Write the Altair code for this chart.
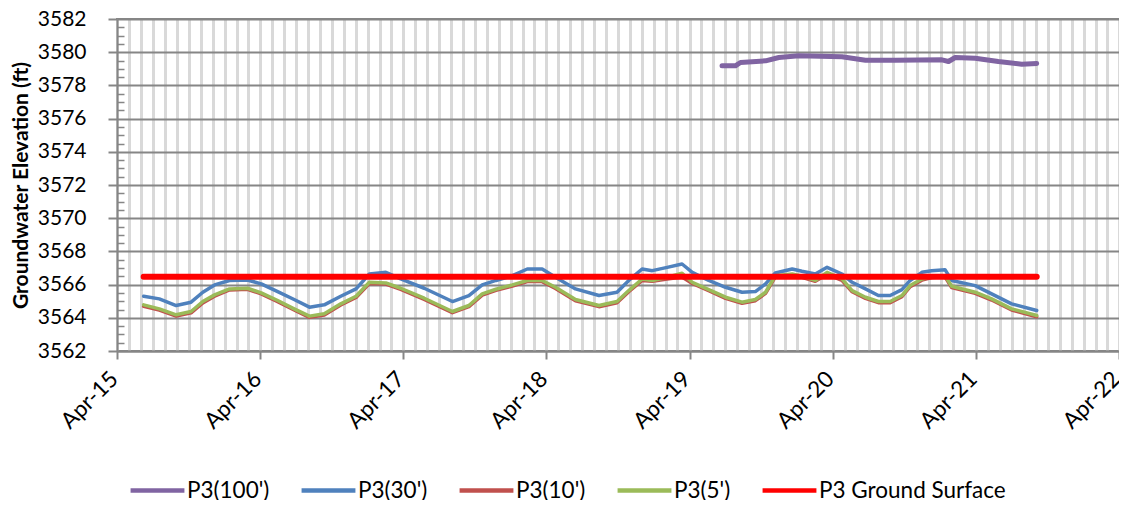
import altair as alt
import pandas as pd

# ---------------- data ----------------
dates = [
    "2015-06-08", "2015-07-18", "2015-08-30", "2015-10-07", "2015-11-06", "2015-12-06",
    "2016-01-13", "2016-02-28", "2016-04-03", "2016-05-15", "2016-06-26", "2016-08-04",
    "2016-09-11", "2016-10-23", "2016-12-01", "2017-01-04", "2017-02-15", "2017-03-25",
    "2017-05-24", "2017-08-04", "2017-09-15", "2017-10-19", "2017-11-23", "2018-01-04",
    "2018-02-11", "2018-03-21", "2018-04-24", "2018-06-14", "2018-08-13", "2018-09-28",
    "2018-10-28", "2018-12-01", "2018-12-27", "2019-02-03", "2019-03-13", "2019-04-08",
    "2019-05-20", "2019-07-02", "2019-08-13", "2019-09-16", "2019-10-12", "2019-11-06",
    "2019-12-19", "2020-01-13", "2020-02-16", "2020-03-17", "2020-04-24", "2020-05-20",
    "2020-06-23", "2020-07-26", "2020-08-25", "2020-09-24", "2020-10-15", "2020-11-14",
    "2020-12-09", "2021-01-12", "2021-01-29", "2021-03-30", "2021-05-11", "2021-07-01",
    "2021-09-03",
]
p30 = [
    3565.30, 3565.14, 3564.74, 3564.94, 3565.54, 3565.98,
    3566.25, 3566.28, 3566.04, 3565.58, 3565.10, 3564.64,
    3564.78, 3565.30, 3565.74, 3566.64, 3566.74, 3566.34,
    3565.78, 3564.98, 3565.34, 3565.98, 3566.25, 3566.54,
    3566.94, 3566.94, 3566.44, 3565.74, 3565.34, 3565.54,
    3566.25, 3566.94, 3566.84, 3567.04, 3567.24, 3566.74,
    3566.25, 3565.84, 3565.54, 3565.58, 3566.04, 3566.70,
    3566.94, 3566.80, 3566.64, 3567.04, 3566.64, 3566.14,
    3565.74, 3565.34, 3565.34, 3565.70, 3566.25, 3566.74,
    3566.84, 3566.90, 3566.25, 3565.94, 3565.44, 3564.84,
    3564.44,
]
p10 = [
    3564.70, 3564.46, 3564.10, 3564.30, 3564.90, 3565.30,
    3565.68, 3565.72, 3565.44, 3564.97, 3564.47, 3564.03,
    3564.17, 3564.77, 3565.22, 3566.06, 3566.03, 3565.71,
    3565.11, 3564.31, 3564.67, 3565.37, 3565.66, 3565.91,
    3566.18, 3566.18, 3565.77, 3565.03, 3564.67, 3564.91,
    3565.57, 3566.25, 3566.20, 3566.33, 3566.45, 3566.07,
    3565.63, 3565.17, 3564.87, 3565.03, 3565.47, 3566.46,
    3566.57, 3566.44, 3566.20, 3566.62, 3566.26, 3565.57,
    3565.17, 3564.91, 3564.91, 3565.27, 3565.87, 3566.27,
    3566.43, 3566.47, 3565.82, 3565.47, 3565.07, 3564.47,
    3564.06,
]
p5 = [
    3564.78, 3564.54, 3564.18, 3564.38, 3564.98, 3565.38,
    3565.74, 3565.78, 3565.50, 3565.04, 3564.54, 3564.10,
    3564.24, 3564.84, 3565.30, 3566.14, 3566.10, 3565.78,
    3565.18, 3564.38, 3564.74, 3565.44, 3565.72, 3565.98,
    3566.25, 3566.25, 3565.84, 3565.10, 3564.74, 3564.98,
    3565.64, 3566.34, 3566.25, 3566.44, 3566.68, 3566.14,
    3565.70, 3565.24, 3564.94, 3565.10, 3565.54, 3566.54,
    3566.64, 3566.50, 3566.25, 3566.74, 3566.34, 3565.64,
    3565.24, 3564.98, 3564.98, 3565.34, 3565.94, 3566.34,
    3566.50, 3566.54, 3565.90, 3565.54, 3565.14, 3564.54,
    3564.14,
]
p100_dates = [
    "2019-06-23", "2019-07-27", "2019-08-09", "2019-10-12", "2019-11-15", "2020-01-05",
    "2020-04-24", "2020-06-23", "2020-09-07", "2021-01-04", "2021-01-21", "2021-02-07",
    "2021-03-30", "2021-05-28", "2021-07-27", "2021-09-03",
]
p100 = [
    3579.18, 3579.18, 3579.38, 3579.48, 3579.68, 3579.78,
    3579.72, 3579.52, 3579.52, 3579.54, 3579.44, 3579.68,
    3579.64, 3579.44, 3579.28, 3579.32,
]
gs_dates = ["2015-06-08", "2021-09-03"]
gs = [3566.47, 3566.47]

series_names = ["P3(100')", "P3(30')", "P3(10')", "P3(5')", "P3 Ground Surface"]
series_colors = ["#8064A2", "#4F81BD", "#C0504D", "#9BBB59", "#FF0000"]
series_widths = [5, 3.5, 3.5, 3.5, 6]

y_major = [3562, 3564, 3566, 3568, 3570, 3572, 3574, 3576, 3578, 3580, 3582]
y_minor = [v + d for v in y_major[:-1] for d in (0.5, 1.0, 1.5)]

frames = {
    "P3(100')": pd.DataFrame({"date": p100_dates, "value": p100}),
    "P3(30')": pd.DataFrame({"date": dates, "value": p30}),
    "P3(10')": pd.DataFrame({"date": dates, "value": p10}),
    "P3(5')": pd.DataFrame({"date": dates, "value": p5}),
    "P3 Ground Surface": pd.DataFrame({"date": gs_dates, "value": gs}),
}
for k, f in frames.items():
    f["series"] = k

# ---------------- layout ----------------
W, H = 1002, 332
FONT = "Lato"
GRID_DARK = "#868686"
GRID_LIGHT = "#D9D9D9"

x_scale = alt.Scale(
    type="utc",
    domain=[alt.DateTime(year=2015, month=4, date=1, utc=True),
            alt.DateTime(year=2022, month=4, date=1, utc=True)],
    nice=False,
)
x_axis = alt.Axis(
    tickCount={"interval": "month", "step": 1},
    grid=True, gridColor=GRID_LIGHT, gridWidth=3,
    labelExpr="utcmonth(datum.value) == 3 ? utcFormat(datum.value, '%b-%y') : ''",
    labelAngle=-45, labelAlign="right", labelBaseline="middle",
    labelFont=FONT, labelFontSize=22.5, labelColor="#000000",
    labelPadding=16, labelOffset=-3,
    labelOverlap=False, labelBound=False, labelFlush=False,
    tickSize={"condition": {"test": "utcmonth(datum.value) == 3", "value": 8}, "value": 0},
    tickColor=GRID_DARK, tickWidth=2,
    domainColor=GRID_DARK, domainWidth=2,
    title=None,
)
x_enc = alt.X("date:T", scale=x_scale, axis=x_axis)

y_scale = alt.Scale(domain=[3562, 3582], nice=False, zero=False)
y_main = alt.Y("value:Q", scale=y_scale, axis=alt.Axis(
    values=y_major, format="d",
    grid=True, gridColor=GRID_DARK, gridWidth=2,
    tickSize=9, tickColor=GRID_DARK, tickWidth=2,
    domainColor=GRID_DARK, domainWidth=2,
    labelFont=FONT, labelFontSize=21, labelColor="#000000", labelPadding=22,
    title="Groundwater Elevation (ft)", titleFont=FONT, titleFontSize=21,
    titleFontWeight="bold", titleColor="#000000", titlePadding=6,
))
y_minor_enc = alt.Y("value:Q", scale=y_scale, axis=alt.Axis(
    orient="right", offset=-W, values=y_minor,
    labels=False, domain=False, grid=False,
    tickSize=7, tickColor=GRID_DARK, tickWidth=1.5, title=None,
))
y_plain = alt.Y("value:Q", scale=y_scale, axis=None)

legend = alt.Legend(
    orient="none", legendX=11, legendY=442, direction="horizontal",
    symbolType="stroke", symbolSize=2900, symbolStrokeWidth=4.5,
    labelFont=FONT, labelFontSize=22.5,
    labelColor="#000000", labelOffset=0, columnPadding=22, title=None,
    labelLimit=0, padding=0,
)
color_enc = alt.Color("series:N", scale=alt.Scale(domain=series_names, range=series_colors),
                      legend=legend)

y_choice = [y_main, y_minor_enc, y_plain, y_plain, y_plain]
layers = []
for name, yenc, sw in zip(series_names, y_choice, series_widths):
    layers.append(
        alt.Chart(frames[name]).mark_line(
            strokeJoin="round", strokeCap="round", strokeWidth=sw
        ).encode(x=x_enc, y=yenc, color=color_enc)
    )

chart = (
    alt.layer(*layers)
    .resolve_axis(y="independent")
    .properties(
        width=W, height=H,
        autosize=alt.AutoSizeParams(type="none"),
        padding={"left": 109, "top": 11, "right": 0, "bottom": 149},
        background="#FFFFFF",
    )
    .configure_view(stroke=GRID_DARK, strokeWidth=2)
)

chart.save("out.html", embed_options={"renderer": "svg", "actions": False})
